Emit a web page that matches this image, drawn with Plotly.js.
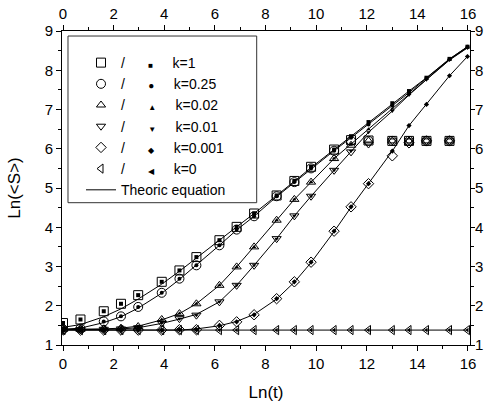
<!DOCTYPE html>
<html><head><meta charset="utf-8">
<script src="https://cdn.plot.ly/plotly-3.0.1.min.js"></script>
<style>html,body{margin:0;padding:0;background:#fff}#chart{width:484px;height:407px}</style>
</head><body><div id="chart"></div>
<script>
// Ln(t) positions of the sampled times
const lnT = [0, 0.69, 1.61, 2.29, 2.97, 3.90, 4.60, 5.27, 6.18, 6.86, 7.55, 8.44, 9.14, 9.80, 10.71, 11.38, 12.07, 13.01, 13.67, 14.36, 15.27, 15.98];

const seriesNames = ['k=1', 'k=0.25', 'k=0.02', 'k=0.01', 'k=0.001', 'k=0'];

// open markers (saturating near 6.2)
const open_k1    = [1.56,1.65,1.86,2.05,2.27,2.61,2.90,3.24,3.67,4.01,4.35,4.81,5.18,5.54,5.98,6.22,6.21,6.20,6.20,6.20,6.20];
const open_k025  = [1.40,1.42,1.60,1.73,1.97,2.33,2.69,3.03,3.54,3.94,4.28,4.79,5.15,5.50,5.95,6.20,6.20,6.20,6.20,6.20,6.20];
const open_k002  = [1.40,1.40,1.41,1.43,1.47,1.65,1.80,2.05,2.52,2.99,3.50,4.18,4.71,5.15,5.75,6.09,6.20,6.20,6.20,6.20,6.20];
const open_k001  = [1.40,1.39,1.40,1.41,1.44,1.56,1.67,1.76,2.10,2.52,3.03,3.71,4.29,4.79,5.45,5.92,6.12,6.20,6.20,6.20,6.20];
const open_k0001 = [1.38,1.38,1.38,1.38,1.38,1.38,1.39,1.39,1.50,1.59,1.77,2.18,2.61,3.11,3.90,4.52,5.11,5.82,6.15,6.20,6.20];
const open_k0    = [1.38,1.38,1.38,1.38,1.38,1.38,1.38,1.38,1.38,1.38,1.38,1.38,1.38,1.38,1.38,1.38,1.38,1.38,1.38,1.38,1.38,1.38];

// filled markers
const fill_k1    = [1.56,1.65,1.86,2.05,2.27,2.61,2.90,3.24,3.67,4.01,4.35,4.81,5.18,5.54,5.98,6.32,6.68,7.16,7.47,7.81,8.29,8.60];
const fill_k025  = [1.40,1.42,1.60,1.73,1.97,2.33,2.69,3.03,3.54,3.94,4.28,4.79,5.15,5.50,5.95,6.28,6.62,7.10,7.43,7.80,8.28,8.60];
const fill_k002  = [1.40,1.40,1.41,1.43,1.47,1.65,1.80,2.05,2.52,2.99,3.50,4.18,4.71,5.15,5.75,6.12,6.50,7.02,7.40,7.78,8.27,8.58];
const fill_k001  = [1.40,1.39,1.40,1.41,1.44,1.56,1.67,1.76,2.10,2.52,3.03,3.71,4.29,4.79,5.45,5.94,6.42,6.96,7.37,7.76,8.26,8.57];
const fill_k0001 = [1.38,1.38,1.38,1.38,1.38,1.38,1.39,1.39,1.50,1.59,1.77,2.18,2.61,3.11,3.90,4.52,5.11,5.94,6.59,7.13,7.86,8.35];
const fill_k0    = [1.38,1.38,1.38,1.38,1.38,1.38,1.38,1.38,1.38,1.38,1.38,1.38,1.38,1.38,1.38,1.38,1.38,1.38,1.38,1.38,1.38,1.38];

// theoretic equation curves
const theo_k1    = [1.45,1.52,1.72,1.92,2.17,2.55,2.88,3.22,3.67,4.01,4.35,4.80,5.17,5.52,5.98,6.32,6.68,7.16,7.47,7.81,8.29,8.60];
const theo_k025  = [1.40,1.43,1.57,1.72,1.94,2.32,2.67,3.03,3.54,3.93,4.28,4.78,5.14,5.50,5.95,6.28,6.62,7.10,7.43,7.80,8.28,8.60];
const theo_k002  = [1.40,1.40,1.41,1.43,1.48,1.64,1.80,2.05,2.52,2.99,3.50,4.18,4.71,5.15,5.75,6.12,6.50,7.02,7.40,7.78,8.27,8.58];
const theo_k001  = [1.40,1.39,1.40,1.41,1.44,1.55,1.66,1.78,2.10,2.52,3.03,3.71,4.29,4.79,5.45,5.94,6.42,6.96,7.37,7.76,8.26,8.57];
const theo_k0001 = [1.38,1.38,1.38,1.38,1.38,1.38,1.38,1.41,1.49,1.60,1.78,2.17,2.60,3.10,3.89,4.51,5.11,5.94,6.59,7.13,7.86,8.35];
const theo_k0    = [1.38,1.38,1.38,1.38,1.38,1.38,1.38,1.38,1.38,1.38,1.38,1.38,1.38,1.38,1.38,1.38,1.38,1.38,1.38,1.38,1.38,1.38];

const xTicks = [0, 2, 4, 6, 8, 10, 12, 14, 16];
const yTicks = [1, 2, 3, 4, 5, 6, 7, 8, 9];

const openSets = [open_k1, open_k025, open_k002, open_k001, open_k0001, open_k0];
const fillSets = [fill_k1, fill_k025, fill_k002, fill_k001, fill_k0001, fill_k0];
const theoSets = [theo_k1, theo_k025, theo_k002, theo_k001, theo_k0001, theo_k0];

const openSym = ['square-open','circle-open','triangle-up-open','triangle-down-open','diamond-open','triangle-left-open'];
const openSize = [9, 9, 8, 8, 8, 8];
const fillSym = ['square','circle','triangle-up','triangle-down','diamond','triangle-left'];
const fillSize = [4, 4, 4, 4, 4, 4];
const glyphs = ['\u25A0','\u25CF','\u25B2','\u25BC','\u25C6','\u25C0'];
const glyphSize = [8, 10, 8, 8, 8, 8];

const NB = '\u00A0';
const sp = n => NB.repeat(n);

const traces = [];
theoSets.forEach((ys, i) => {
  traces.push({
    x: lnT.slice(0, ys.length), y: ys, mode: 'lines', type: 'scatter',
    line: {color: '#000', width: 1},
    name: 'Theoric equation', showlegend: i === 0, legendrank: 7, hoverinfo: 'skip'
  });
});
openSets.forEach((ys, i) => {
  traces.push({
    x: lnT.slice(0, ys.length), y: ys, mode: 'markers', type: 'scatter',
    marker: {symbol: openSym[i], size: openSize[i], color: '#000', line: {color: '#000', width: 1}},
    name: '/' + sp(6) + '<span style="font-size:' + glyphSize[i] + 'px">' + glyphs[i] + '</span>' + sp(5) + seriesNames[i],
    showlegend: true, legendrank: i + 1
  });
});
fillSets.forEach((ys, i) => {
  traces.push({
    x: lnT.slice(0, ys.length), y: ys, mode: 'markers', type: 'scatter',
    marker: {symbol: fillSym[i], size: fillSize[i], color: '#000'},
    showlegend: false
  });
});

const fontFam = 'Arial, "Liberation Sans", sans-serif';
const axBase = {
  showgrid: false, zeroline: false, showline: true, linecolor: '#000', linewidth: 1,
  ticks: 'outside', ticklen: 5, tickwidth: 1, tickcolor: '#000',
  tickfont: {family: fontFam, size: 15, color: '#000'},
  minor: {ticks: 'outside', ticklen: 3, tickwidth: 1, tickcolor: '#000'}
};
const xr = [-0.04, 16.08];
const yr = [1, 9];

const layout = {
  width: 484, height: 407,
  margin: {l: 62, r: 14, t: 31, b: 62, pad: 0},
  paper_bgcolor: '#fff', plot_bgcolor: '#fff',
  font: {family: fontFam, color: '#000'},
  showlegend: true,
  legend: {
    x: 0.0466, y: 0.9904, xanchor: 'left', yanchor: 'top',
    bgcolor: 'rgba(0,0,0,0)', borderwidth: 0,
    font: {family: fontFam, size: 14, color: '#000'},
    traceorder: 'normal', itemwidth: 30,
    title: {text: NB, font: {size: 10}}
  },
  shapes: [{
    type: 'rect', xref: 'paper', yref: 'paper',
    x0: 0.0147, x1: 0.4772, y0: 0.4532, y1: 0.984,
    line: {color: '#333', width: 1}, fillcolor: '#fff', layer: 'above'
  }],
  xaxis: Object.assign({}, axBase, {
    range: xr, tickmode: 'array', tickvals: xTicks, ticktext: xTicks.map(String),
    minor: Object.assign({}, axBase.minor, {tickmode: 'array', tickvals: xTicks.slice(0, -1).map(v => v + 1)}),
    title: {text: 'Ln(t)', font: {family: fontFam, size: 17, color: '#000'}, standoff: 15},
    automargin: false
  }),
  xaxis2: Object.assign({}, axBase, {
    range: xr, overlaying: 'x', side: 'top', anchor: 'y',
    tickmode: 'array', tickvals: xTicks, ticktext: xTicks.map(String),
    minor: Object.assign({}, axBase.minor, {tickmode: 'array', tickvals: xTicks.slice(0, -1).map(v => v + 1)}),
    automargin: false
  }),
  yaxis: Object.assign({}, axBase, {
    range: yr, tickmode: 'array', tickvals: yTicks, ticktext: yTicks.map(String),
    minor: Object.assign({}, axBase.minor, {tickmode: 'array', tickvals: yTicks.slice(0, -1).map(v => v + 0.5)}),
    title: {text: 'Ln(&lt;S&gt;)', font: {family: fontFam, size: 17, color: '#000'}, standoff: 19},
    automargin: false
  }),
  yaxis2: Object.assign({}, axBase, {
    range: yr, overlaying: 'y', side: 'right', anchor: 'x',
    ticklen: 4, ticklabelstandoff: -3,
    tickmode: 'array', tickvals: yTicks, ticktext: yTicks.map(String),
    minor: Object.assign({}, axBase.minor, {tickmode: 'array', tickvals: yTicks.slice(0, -1).map(v => v + 0.5)}),
    automargin: false
  })
};

// invisible anchor trace so top/right axes render
traces.push({x: xr, y: yr, xaxis: 'x2', yaxis: 'y2', mode: 'markers', marker: {opacity: 0}, showlegend: false, hoverinfo: 'skip'});

Plotly.newPlot('chart', traces, layout, {staticPlot: true, displayModeBar: false});
</script>
</body></html>
